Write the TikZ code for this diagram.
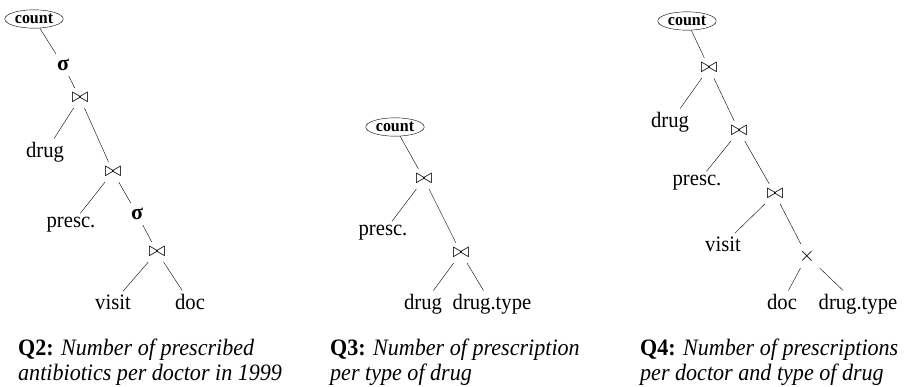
\documentclass[tikz,border=0pt]{standalone}
\usepackage{amsmath}
\usepackage{fontspec}
\setmainfont{Liberation Serif}
\newfontfamily\narrowfont[FakeStretch=0.94]{Liberation Serif}
\usepackage{tikz}
\usetikzlibrary{shapes.geometric}

\begin{document}
\begin{tikzpicture}[x=1pt, y=-1pt,
    rel/.style={font=\narrowfont\fontsize{22}{24}\selectfont, inner sep=4pt, anchor=base},
    op/.style={inner sep=5pt, font=\fontsize{22}{24}\selectfont},
    agg/.style={ellipse, draw, inner sep=1.6pt, font=\narrowfont\fontsize{17}{18}\selectfont\bfseries},
    caption/.style={align=left, anchor=north west, inner sep=0pt,
        font=\narrowfont\fontsize{23.5}{25}\selectfont}]
    \useasboundingbox (0,0) rectangle (922,387);

    % Q2
    \node[agg] (countA) at (34,19) {count};
    \node[op] (selA) at (63,65) {\textbf{σ}};
    \node[op] (joinA) at (80,98) {$\bowtie$};
    \node[rel] (drugA) at (45,158) {drug};
    \node[op] (joinB) at (113,172) {$\bowtie$};
    \node[rel] (prescA) at (71,228) {presc.};
    \node[op] (selB) at (137,214) {\textbf{σ}};
    \node[op] (joinC) at (157,252) {$\bowtie$};
    \node[rel] (visitA) at (113,310) {visit};
    \node[rel] (docA) at (190,310) {doc};

    \draw (countA) -- (selA);
    \draw (selA) -- (joinA);
    \draw (joinA) -- (drugA);
    \draw (joinA) -- (joinB);
    \draw (joinB) -- (prescA);
    \draw (joinB) -- (selB);
    \draw (selB) -- (joinC);
    \draw (joinC) -- (visitA);
    \draw (joinC) -- (docA);

    % Q3
    \node[agg] (countB) at (395,127) {count};
    \node[op] (joinD) at (424,179) {$\bowtie$};
    \node[rel] (prescB) at (383,236) {presc.};
    \node[op] (joinE) at (461,253) {$\bowtie$};
    \node[rel] (drugB) at (423,310) {drug};
    \node[rel] (typeB) at (492,310) {drug.type};

    \draw (countB) -- (joinD);
    \draw (joinD) -- (prescB);
    \draw (joinD) -- (joinE);
    \draw (joinE) -- (drugB);
    \draw (joinE) -- (typeB);

    % Q4
    \node[agg] (countC) at (687,21) {count};
    \node[op] (joinF) at (709,68) {$\bowtie$};
    \node[rel] (drugC) at (670,128) {drug};
    \node[op] (joinG) at (739,131) {$\bowtie$};
    \node[rel] (prescC) at (697,186) {presc.};
    \node[op] (joinH) at (775,194) {$\bowtie$};
    \node[rel] (visitC) at (723,252) {visit};
    \node[op] (prodC) at (807,256) {$\times$};
    \node[rel] (docC) at (782,310) {doc};
    \node[rel] (typeC) at (858,310) {drug.type};

    \draw (countC) -- (joinF);
    \draw (joinF) -- (drugC);
    \draw (joinF) -- (joinG);
    \draw (joinG) -- (prescC);
    \draw (joinG) -- (joinH);
    \draw (joinH) -- (visitC);
    \draw (joinH) -- (prodC);
    \draw (prodC) -- (docC);
    \draw (prodC) -- (typeC);

    % captions
    \node[caption] (capA) at (18,339) {\textbf{Q2:} \textit{Number of prescribed}\\\textit{antibiotics per doctor in 1999}};
    \node[caption] (capB) at (330,339) {\textbf{Q3:} \textit{Number of prescription}\\\textit{per type of drug}};
    \node[caption] (capC) at (640,339) {\textbf{Q4:} \textit{Number of prescriptions}\\\textit{per doctor and type of drug}};
\end{tikzpicture}
\end{document}
